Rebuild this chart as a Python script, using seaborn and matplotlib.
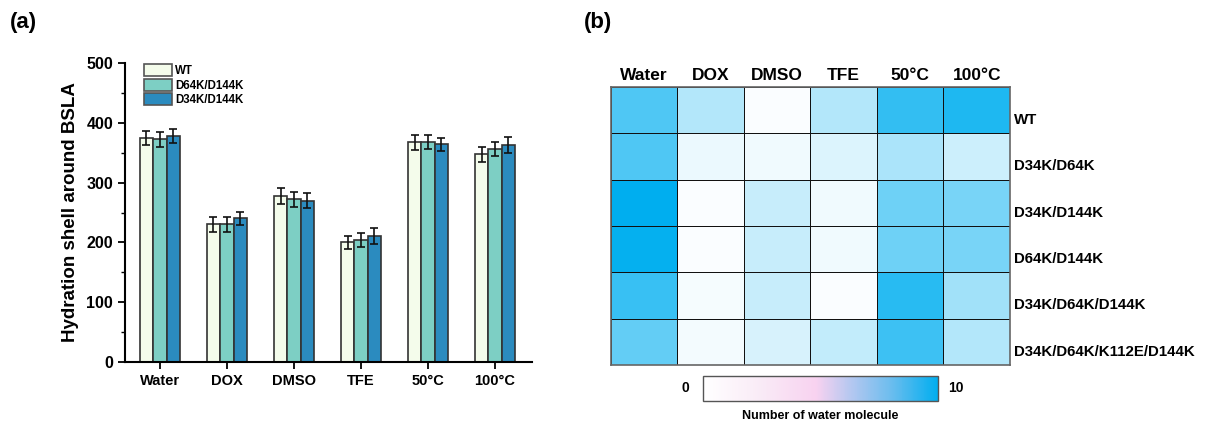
import numpy as np
import pandas as pd
import matplotlib
matplotlib.use("Agg")
import matplotlib.pyplot as plt
import matplotlib.transforms as mtransforms
from matplotlib.colors import LinearSegmentedColormap, Normalize
from matplotlib.cm import ScalarMappable
from matplotlib.patches import Patch
from matplotlib.ticker import MultipleLocator
import seaborn as sns

# ---------------- data ----------------
conditions = ["Water", "DOX", "DMSO", "TFE", "50°C", "100°C"]
variants = ["WT", "D64K/D144K", "D34K/D144K"]
wt_mean = [375, 230, 278, 200, 367, 347]
d64k_d144k_mean = [372, 230, 272, 204, 368, 356]
d34k_d144k_mean = [378, 240, 270, 211, 364, 363]
wt_err = [12, 12, 13, 11, 12, 12]
d64k_d144k_err = [12, 12, 12, 12, 12, 12]
d34k_d144k_err = [12, 11, 12, 13, 11, 14]

heat_rows = ["WT", "D34K/D64K", "D34K/D144K", "D64K/D144K",
             "D34K/D64K/D144K", "D34K/D64K/K112E/D144K"]
heat_wt = [6.9, 3.0, 0.2, 3.0, 8.0, 8.8]
heat_d34k_d64k = [6.9, 0.8, 0.6, 1.4, 3.3, 2.0]
heat_d34k_d144k = [10.0, 0.2, 2.2, 0.6, 5.7, 5.3]
heat_d64k_d144k = [9.8, 0.2, 2.2, 0.6, 5.7, 5.3]
heat_triple = [7.8, 0.4, 2.2, 0.2, 8.4, 3.7]
heat_quad = [6.1, 0.5, 1.6, 2.4, 7.6, 3.0]

# ---------------- style ----------------
sns.set_theme(style="white")
plt.rcParams["font.family"] = ["Liberation Sans", "DejaVu Sans"]
plt.rcParams["font.weight"] = "bold"
for key in ["text.color", "axes.labelcolor", "xtick.color", "ytick.color"]:
    plt.rcParams[key] = "black"

bar_colors = ["#F4FCEB", "#7DCFC4", "#2B8BBF"]
edge = "#333333"

fig = plt.figure(figsize=(12.06, 4.25), dpi=100)

# ---------------- (a) grouped bars ----------------
ax1 = fig.add_axes([0.1036, 0.148, 0.3375, 0.704])
means = [wt_mean, d64k_d144k_mean, d34k_d144k_mean]
errs = [wt_err, d64k_d144k_err, d34k_d144k_err]
df = pd.DataFrame({
    "condition": np.tile(conditions, len(variants)),
    "variant": np.repeat(variants, len(conditions)),
    "value": np.concatenate(means),
})
sns.barplot(data=df, x="condition", y="value", hue="variant",
            order=conditions, hue_order=variants, palette=bar_colors,
            saturation=1, width=0.6, errorbar=None, edgecolor=edge,
            linewidth=1.2, legend=False, ax=ax1)

# error bars placed on the bar centres seaborn computed
for bars, m, e in zip(ax1.containers, means, errs):
    xs = [b.get_x() + b.get_width() / 2 for b in bars]
    ax1.errorbar(xs, m, yerr=e, fmt="none", ecolor="#111111",
                 elinewidth=1.2, capsize=3.2, capthick=1.2, zorder=5)

ax1.set_ylim(0, 500)
ax1.set_xlim(-0.52, 5.55)
ax1.yaxis.set_major_locator(MultipleLocator(100))
ax1.yaxis.set_minor_locator(MultipleLocator(50))
ax1.set_xlabel("")
ax1.set_ylabel("Hydration shell around BSLA", fontsize=13.5,
               fontweight="bold", labelpad=5)
for s in ["top", "right"]:
    ax1.spines[s].set_visible(False)
for s in ["left", "bottom"]:
    ax1.spines[s].set_color("black")
    ax1.spines[s].set_linewidth(1.5)
ax1.tick_params(axis="both", which="major", direction="out", length=5,
                width=1.3, color="black", left=True, bottom=True)
ax1.tick_params(axis="x", labelsize=10.5)
ax1.tick_params(axis="y", labelsize=11.5)
ax1.tick_params(axis="y", which="minor", direction="out", length=3,
                width=1.0, color="black", left=True)
for lbl in ax1.get_xticklabels() + ax1.get_yticklabels():
    lbl.set_fontweight("bold")

handles = [Patch(facecolor=c, edgecolor="#555555", linewidth=1.2)
           for c in bar_colors]
ax1.legend(handles, variants, loc="upper left", bbox_to_anchor=(0.03, 1.02),
           frameon=False, handlelength=2.4, handleheight=1.25,
           handletextpad=0.3, labelspacing=0.15, borderaxespad=0.2,
           prop={"weight": "bold", "size": 8.3})

fig.text(0.008, 0.935, "(a)", fontsize=16, fontweight="bold")
fig.text(0.484, 0.935, "(b)", fontsize=16, fontweight="bold")

# ---------------- (b) heatmap ----------------
ax2 = fig.add_axes([0.5066, 0.1412, 0.3308, 0.6541])
heat = pd.DataFrame([heat_wt, heat_d34k_d64k, heat_d34k_d144k,
                     heat_d64k_d144k, heat_triple, heat_quad],
                    index=heat_rows, columns=conditions)
cell_cmap = LinearSegmentedColormap.from_list("cells", ["#FFFFFF", "#00AEEF"])
sns.heatmap(heat, cmap=cell_cmap, vmin=0, vmax=10, cbar=False,
            linewidths=0.7, linecolor="#111111", square=False, ax=ax2)
for s in ax2.spines.values():
    s.set_visible(True)
    s.set_color("#666666")
    s.set_linewidth(1.2)
ax2.xaxis.tick_top()
ax2.yaxis.tick_right()
ax2.tick_params(axis="both", length=0, pad=3)
ax2.set_xticklabels(conditions, fontsize=12.5, fontweight="bold")
ax2.set_yticklabels(heat_rows, fontsize=10.8, fontweight="bold", rotation=0,
                    va="center", ha="left")
shift = mtransforms.ScaledTranslation(0, -10 / 100, fig.dpi_scale_trans)
for lbl in ax2.get_yticklabels():
    lbl.set_transform(lbl.get_transform() + shift)
ax2.set_xlabel("")
ax2.set_ylabel("")

# colour key
cax = fig.add_axes([0.583, 0.0565, 0.195, 0.0588])
key_cmap = LinearSegmentedColormap.from_list(
    "key", [(0.0, "#FFFFFF"), (0.25, "#F9EAF6"), (0.48, "#F8D2F0"),
            (0.62, "#B9C8F0"), (0.8, "#6CBDEE"), (1.0, "#00AEEF")])
cb = fig.colorbar(ScalarMappable(norm=Normalize(0, 10), cmap=key_cmap),
                  cax=cax, orientation="horizontal")
cb.set_ticks([])
cb.outline.set_edgecolor("#555555")
cb.outline.set_linewidth(1.0)
cax.text(-0.075, 0.5, "0", transform=cax.transAxes, ha="center", va="center",
         fontsize=10, fontweight="bold")
cax.text(1.075, 0.5, "10", transform=cax.transAxes, ha="center",
         va="center", fontsize=10, fontweight="bold")
cax.text(0.5, -0.6, "Number of water molecule", transform=cax.transAxes,
         ha="center", va="center", fontsize=9, fontweight="bold")

fig.savefig("out.png", dpi=100, facecolor="white")
